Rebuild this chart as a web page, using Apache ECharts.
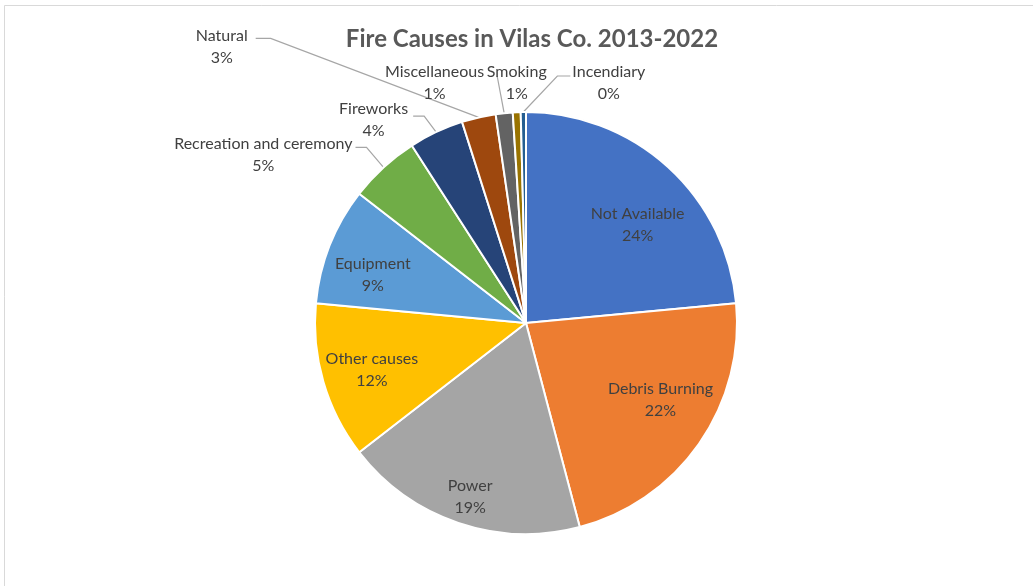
<!DOCTYPE html>
<html>
<head>
<meta charset="utf-8">
<script src="https://cdn.jsdelivr.net/npm/echarts@6/dist/echarts.min.js"></script>
<style>
  html, body { margin: 0; padding: 0; background: #fff; }
  #chart { width: 1033px; height: 586px; }
</style>
</head>
<body>
<div id="chart"></div>
<script>
const categories = ['Not Available', 'Debris Burning', 'Power', 'Other causes', 'Equipment',
  'Recreation and ceremony', 'Fireworks', 'Natural', 'Miscellaneous', 'Smoking', 'Incendiary'];
const values = [23.5, 22.4, 18.6, 12.0, 9.0, 5.4, 4.2, 2.6, 1.3, 0.6, 0.4];
const colors = ['#4472C4', '#ED7D31', '#A5A5A5', '#FFC000', '#5B9BD5', '#70AD47',
  '#264478', '#9E480E', '#636363', '#997300', '#255E91'];
const insideCount = 5;

// label styling (offsets relative to library-computed anchors)
const insideNudge = [[3, 21], [2, -16], [-4, 21], [1, 2], [-3, 11]];
const outsideStyle = {
  'Recreation and ceremony': { bend: [-17, -20], h: 11, side: -1, gap: 3, offY: 7 },
  'Fireworks': { bend: [-12, -16], h: 11, side: -1, gap: 5, offY: 4 },
  'Natural': { bend: [-208, -79], h: 15, side: -1, gap: 8, offY: 8 },
  'Miscellaneous': { bend: [-7, -37], h: 0, side: -1, gap: 13, offY: 7 },
  'Smoking': { bend: [0, -29], h: 0, side: 0, gap: 0, offY: 0, noLine: true },
  'Incendiary': { bend: [34, -36], h: 13, side: 1, gap: 2, offY: 7 }
};

const FONT = 'Lato';
const fmt = p => '{c|' + p.name + '}\n{c|' + Math.round(p.percent) + '%}';
const labelText = {
  formatter: fmt, fontFamily: FONT, fontSize: 16, color: '#404040', lineHeight: 22,
  rich: { c: { align: 'center', fontFamily: FONT, fontSize: 16, color: '#404040', lineHeight: 22 } }
};

const chart = echarts.init(document.getElementById('chart'), null, { renderer: 'canvas' });

const mainData = categories.map((name, i) => ({
  name, value: values[i],
  itemStyle: { color: colors[i] },
  label: { show: i >= insideCount },
  labelLine: { show: i >= insideCount }
}));
const labelData = categories.map((name, i) => ({
  name, value: values[i],
  label: { show: i < insideCount }
}));

function outsideLayout(params) {
  const name = categories[params.dataIndex];
  const st = outsideStyle[name];
  const pts = params.labelLinePoints;
  if (!st || !pts) return {};
  const p0 = pts[0];
  const bend = [p0[0] + st.bend[0], p0[1] + st.bend[1]];
  const end = [bend[0] + st.side * st.h, bend[1]];
  return {
    x: end[0] + st.side * st.gap,
    y: end[1] + st.offY,
    align: st.side < 0 ? 'right' : (st.side > 0 ? 'left' : 'center'),
    verticalAlign: 'middle',
    labelLinePoints: st.noLine ? [p0, p0, p0] : [p0, bend, end]
  };
}
function insideLayout(params) {
  const n = insideNudge[params.dataIndex];
  if (!n) return {};
  return { dx: n[0], dy: n[1] };
}

chart.setOption({
  animation: false,
  backgroundColor: '#fff',
  title: {
    text: 'Fire Causes in Vilas Co. 2013-2022',
    left: 527, top: 22, textAlign: 'center',
    textStyle: { fontFamily: FONT, fontSize: 24, fontWeight: 'bold', color: '#595959' }
  },
  graphic: [{
    type: 'rect', shape: { x: 4.5, y: 5.5, width: 1100, height: 700 },
    style: { fill: null, stroke: '#d9d9d9', lineWidth: 1 }, silent: true
  }],
  series: [{
    type: 'pie',
    center: [526, 323],
    radius: 211,
    startAngle: 90,
    clockwise: true,
    avoidLabelOverlap: false,
    itemStyle: { borderColor: '#fff', borderWidth: 2 },
    label: Object.assign({ position: 'outside' }, labelText),
    labelLine: { length: 20, length2: 12, lineStyle: { color: '#a6a6a6', width: 1.2 } },
    labelLayout: outsideLayout,
    emphasis: { disabled: true },
    data: mainData
  }, {
    type: 'pie',
    center: [526, 323],
    radius: [106, 211],
    startAngle: 90,
    clockwise: true,
    silent: true,
    itemStyle: { color: 'rgba(0,0,0,0)', borderWidth: 0 },
    label: Object.assign({ position: 'inside' }, labelText),
    labelLine: { show: false },
    labelLayout: insideLayout,
    emphasis: { disabled: true },
    data: labelData
  }]
});
</script>
</body>
</html>
